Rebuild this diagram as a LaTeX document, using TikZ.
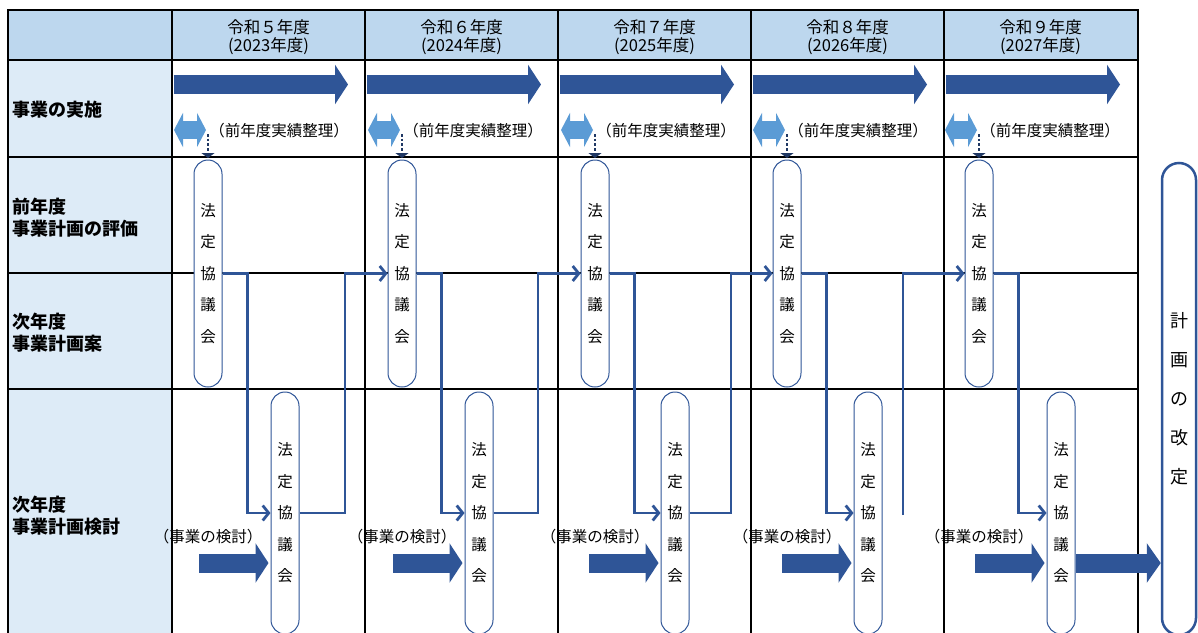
\documentclass[tikz,border=0pt]{standalone}
\usepackage{fontspec}
\setmainfont{Noto Sans CJK JP}
\usetikzlibrary{calc, positioning, arrows.meta}

\definecolor{hdrblue}{HTML}{BDD7EE}
\definecolor{lblblue}{HTML}{DDEBF7}
\definecolor{flowblue}{HTML}{2F5597}
\definecolor{skyblue}{HTML}{5B9BD5}
\definecolor{dotnavy}{HTML}{203864}

\begin{document}
\begin{tikzpicture}[
  x=1pt, y=-1pt,
  font=\fontsize{15.5}{18}\selectfont,
  rule/.style={line width=2pt},
  pill/.style={draw=flowblue, fill=white, line width=1pt, rounded corners=14pt, minimum width=28pt, inner sep=0pt, align=center, font=\fontsize{15.5}{31.5}\selectfont},
  link/.style={draw=flowblue, line width=2.8pt, -{Straight Barb[length=6pt, width=15pt]}},
  bigarr/.style={draw=flowblue, line width=19pt, -{Triangle[length=13pt, width=39pt]}},
  dblarr/.style={draw=skyblue, line width=18pt, {Triangle[length=9pt, width=34pt]}-{Triangle[length=9pt, width=34pt]}},
  dotarr/.style={draw=dotnavy, line width=2.5pt, dash pattern=on 2.5pt off 2.2pt, -{Triangle[length=5pt, width=13pt]}},
  rowlabel/.style={anchor=west, align=left, inner sep=0pt, font=\bfseries\fontsize{18}{22}\selectfont}
]
  \useasboundingbox (0,0) rectangle (1198,632);
  \clip (0,0) rectangle (1198,632);

  % table
  \fill[hdrblue] (8,10) rectangle (1138,60);
  \fill[lblblue] (8,60) rectangle (172,640);
  \draw[rule] (8,640) -- (8,10) -- (1138,10) -- (1138,640);
  \foreach \y in {60,157,273,389} \draw[rule] (8,\y) -- (1138,\y);
  \foreach \x in {172,365,558,751,944} \draw[rule] (\x,10) -- (\x,640);

  \node[rowlabel] (lab-do) at (12,110) {事業の実施};
  \node[rowlabel] (lab-eval) at (12,217.5) {前年度\\事業計画の評価};
  \node[rowlabel] (lab-plan) at (12,333) {次年度\\事業計画案};
  \node[rowlabel] (lab-study) at (12,516) {次年度\\事業計画検討};

  % one column per year
  \foreach \i/\cl/\pa/\pb/\yr/\fw in {0/172/208/285/2023/５, 1/365/402/479/2024/６, 2/558/595/675/2025/７, 3/751/787/868/2026/８, 4/944/979/1061/2027/９}{
    \node[font=\fontsize{16.5}{18}\selectfont] (yr-\i) at (\cl+96.5,27) {令和\fw 年度};
    \node[font=\fontsize{16.5}{18}\selectfont] (yrw-\i) at (\cl+96.5,46) {(\yr 年度)};
    \draw[bigarr] (\cl+1.5,84.5) -- (\cl+176,84.5);
    \draw[dblarr] (\pa-34,130) -- (\pa-2,130);
    \node (memo-\i) at (\pa+71,131) {（前年度実績整理）};
    \node[pill, minimum height=227pt] (p1-\i) at (\pa,273.5) {法\\定\\協\\議\\会};
    \node[pill, minimum height=242pt] (p2-\i) at (\pb,513) {法\\定\\協\\議\\会};
    \coordinate (dot-\i) at (\pa,134);
    \draw[dotarr, shorten >=1.5pt] (dot-\i) -- (p1-\i.north);
    \node (study-\i) at (\pa,537) {（事業の検討）};
    \coordinate (push-\i) at (\pb-86,563);
    \draw[bigarr, shorten >=2pt] (push-\i) -- (push-\i -| p2-\i.west);
    \draw[link] (p1-\i.east) -- ++(25,0) |- (p2-\i.west);
  }

  % links to the next year
  \coordinate (up-0) at (345,273.5);
  \coordinate (up-1) at (538,273.5);
  \coordinate (up-2) at (731,273.5);
  \coordinate (stub) at (903,515);
  \draw[link] (p2-0.east) -| (up-0) -- (p1-1.west);
  \draw[link] (p2-1.east) -| (up-1) -- (p1-2.west);
  \draw[link] (p2-2.east) -| (up-2) -- (p1-3.west);
  \draw[link] (stub) |- (p1-4.west);

  % revision
  \node[pill, minimum width=34pt, minimum height=472pt, rounded corners=17pt, line width=2.5pt, font=\fontsize{18}{39}\selectfont] (revise) at (1179,399) {計\\画\\の\\改\\定};
  \draw[bigarr, -{Triangle[length=14pt, width=39pt]}] (p2-4.east |- push-4) -- (push-4 -| revise.west);
\end{tikzpicture}
\end{document}
